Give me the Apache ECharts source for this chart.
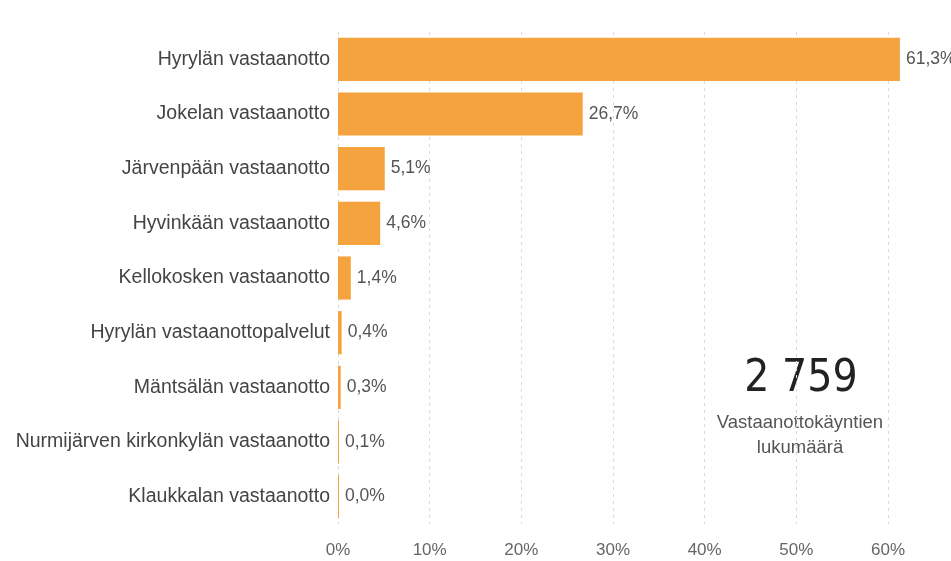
<!DOCTYPE html>
<html>
<head>
<meta charset="utf-8">
<script src="https://cdn.jsdelivr.net/npm/echarts@6/dist/echarts.min.js"></script>
<style>
  html, body { margin: 0; padding: 0; background: #fff; }
  #chart { width: 951px; height: 561px; }
</style>
</head>
<body>
<div id="chart"></div>
<script>
// Reception units, top to bottom
const units = [
  'Hyrylän vastaanotto',
  'Jokelan vastaanotto',
  'Järvenpään vastaanotto',
  'Hyvinkään vastaanotto',
  'Kellokosken vastaanotto',
  'Hyrylän vastaanottopalvelut',
  'Mäntsälän vastaanotto',
  'Nurmijärven kirkonkylän vastaanotto',
  'Klaukkalan vastaanotto'
];
// Share of visits, percent
const shares = [61.3, 26.7, 5.1, 4.6, 1.4, 0.4, 0.3, 0.1, 0.0];
const tickValues = [0, 10, 20, 30, 40, 50, 60];
const totalVisits = '2 759';
const totalCaption = 'Vastaanottokäyntien\nlukumäärä';

const fmt = v => v.toFixed(1).replace('.', ',') + '%';

const chart = echarts.init(document.getElementById('chart'));
chart.setOption({
  animation: false,
  textStyle: { fontFamily: 'Liberation Sans, Arial, sans-serif' },
  grid: { left: 338, right: 63, top: 32, bottom: 37 },
  xAxis: {
    type: 'value',
    min: tickValues[0],
    max: tickValues[tickValues.length - 1],
    interval: 10,
    axisLine: { show: false },
    axisTick: { show: false },
    axisLabel: { color: '#666', fontSize: 17, margin: 18, formatter: v => v + '%' },
    splitLine: { show: true, lineStyle: { color: '#d9d9d9', type: [3, 4], width: 1 } }
  },
  yAxis: {
    type: 'category',
    inverse: true,
    data: units,
    axisLine: { show: false },
    axisTick: { show: false },
    axisLabel: { color: '#444', fontSize: 19.5, margin: 8 }
  },
  series: [{
    type: 'bar',
    data: shares,
    clip: false,
    barCategoryGap: '21%',
    barMinHeight: 1,
    itemStyle: { color: '#F5A33E' },
    label: {
      show: true,
      position: 'right',
      distance: 6,
      color: '#555',
      fontSize: 17.5,
      formatter: p => fmt(p.value)
    }
  }],
  graphic: [
    {
      type: 'text',
      x: 801, y: 380,
      style: {
        text: totalVisits,
        align: 'center',
        verticalAlign: 'middle',
        font: '44px "DejaVu Sans Condensed", sans-serif',
        fill: '#222'
      }
    },
    {
      type: 'text',
      x: 800, y: 435,
      style: {
        text: totalCaption,
        align: 'center',
        verticalAlign: 'middle',
        lineHeight: 25,
        font: '18.5px "Liberation Sans", Arial, sans-serif',
        fill: '#555'
      }
    }
  ]
});
</script>
</body>
</html>
